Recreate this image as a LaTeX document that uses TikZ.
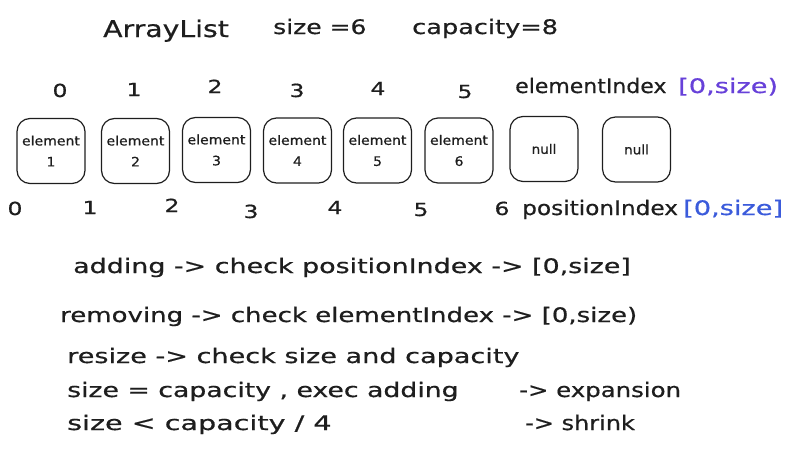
\documentclass[tikz,border=0pt]{standalone}
\usepackage{fontspec}
\usepackage{graphicx}
\setmainfont{DejaVu Sans}[FakeBold=0.6]
\definecolor{violetc}{HTML}{6741D9}
\definecolor{indigoc}{HTML}{3B5BDB}
\definecolor{ink}{HTML}{1E1E1E}
\newcommand\hx[2][1.3]{\scalebox{#1}[1]{#2}}
\begin{document}
\begin{tikzpicture}[x=1pt,y=-1pt,
  txt/.style={inner sep=0pt, anchor=base west, text=ink, font=\fontsize{20}{22}\selectfont},
  idx/.style={inner sep=0pt, anchor=base, text=ink, font=\fontsize{18}{20}\selectfont},
  cell/.style={draw=ink, line width=1.2pt, rounded corners=13pt, inner sep=0pt,
    minimum width=68pt, minimum height=65pt, align=center, text=ink,
    font=\fontsize{13}{21}\selectfont}]
\useasboundingbox (0,0) rectangle (799,450);
% title row
\node[txt, font=\fontsize{23}{25}\selectfont] (title) at (103,37) {\hx[1.23]{ArrayList}};
\node[txt] (sz) at (273,34) {\hx[1.25]{size =6}};
\node[txt] (cap) at (412,34) {\hx[1.28]{capacity=8}};
% element index row
\node[idx] (a0) at (60,97) {\hx{0}};
\node[idx] (a1) at (134,96) {\hx{1}};
\node[idx] (a2) at (215,93) {\hx{2}};
\node[idx] (a3) at (297,97) {\hx{3}};
\node[idx] (a4) at (378,95) {\hx{4}};
\node[idx] (a5) at (465,98) {\hx{5}};
\node[txt] (ei) at (515,93) {\hx[1.1]{elementIndex}};
\node[txt, text=violetc] (eir) at (678,93) {\hx[1.36]{[0,size)}};
% cells
\node[cell] (c1) at (51,151) {\hx[1.08]{element}\\\hx[1.08]{1}};
\node[cell] (c2) at (135.5,151) {\hx[1.08]{element}\\\hx[1.08]{2}};
\node[cell] (c3) at (216.5,150) {\hx[1.08]{element}\\\hx[1.08]{3}};
\node[cell] (c4) at (297.5,150.5) {\hx[1.08]{element}\\\hx[1.08]{4}};
\node[cell] (c5) at (377.5,150.5) {\hx[1.08]{element}\\\hx[1.08]{5}};
\node[cell] (c6) at (459,150.5) {\hx[1.08]{element}\\\hx[1.08]{6}};
\node[cell] (c7) at (544,149) {\hx[1.05]{null}};
\node[cell] (c8) at (636.5,149.5) {\hx[1.05]{null}};
% position index row
\node[idx] (p0) at (15,215) {\hx{0}};
\node[idx] (p1) at (90,214) {\hx{1}};
\node[idx] (p2) at (172,212) {\hx{2}};
\node[idx] (p3) at (251,218) {\hx{3}};
\node[idx] (p4) at (335,214) {\hx{4}};
\node[idx] (p5) at (421,216) {\hx{5}};
\node[idx] (p6) at (502,215) {\hx{6}};
\node[txt] (pi) at (522,215) {\hx[1.16]{positionIndex}};
\node[txt, text=indigoc] (pir) at (683,215) {\hx[1.36]{[0,size]}};
% notes
\node[txt] (l1) at (73,273) {\hx[1.345]{adding -> check positionIndex -> [0,size]}};
\node[txt] (l2) at (60,322) {\hx{removing -> check elementIndex -> [0,size)}};
\node[txt] (l3) at (67,363) {\hx[1.354]{resize -> check size and capacity}};
\node[txt] (l4) at (67,397) {\hx[1.335]{size = capacity , exec adding}};
\node[txt] (l4b) at (519,397) {\hx[1.22]{-> expansion}};
\node[txt] (l5) at (67,430) {\hx[1.43]{size < capacity / 4}};
\node[txt] (l5b) at (525,430) {\hx[1.2]{-> shrink}};
\end{tikzpicture}
\end{document}
